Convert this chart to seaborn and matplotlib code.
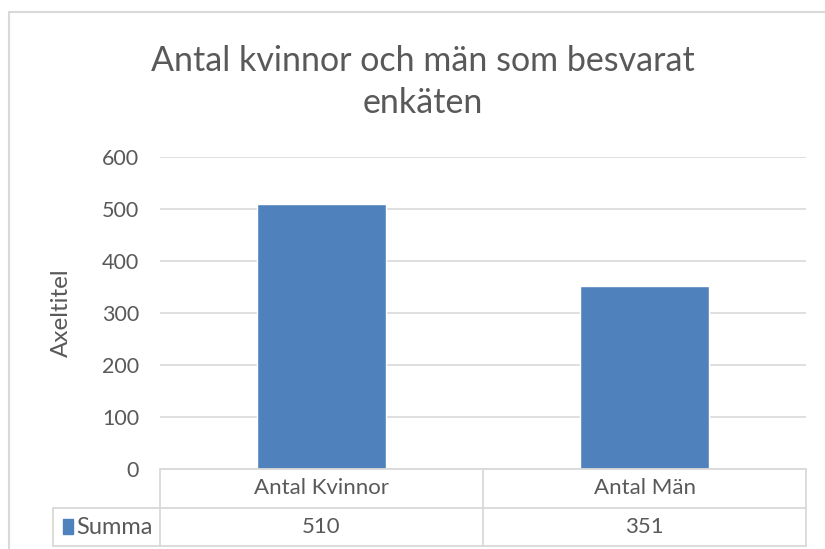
import numpy as np
import pandas as pd
import seaborn as sns
import matplotlib.pyplot as plt
from matplotlib.lines import Line2D
from matplotlib.patches import Rectangle
import matplotlib.transforms as mtransforms

categories = ["Antal Kvinnor", "Antal Män"]
values = [510, 351]
series_name = "Summa"
title = "Antal kvinnor och män som besvarat\nenkäten"
y_label = "Axeltitel"
y_ticks = [0, 100, 200, 300, 400, 500, 600]

W, H = 825, 549
bar_color = "#4F81BD"
text_color = "#595959"
line_color = "#D9D9D9"

sns.set_theme(style="white")
plt.rcParams['font.family'] = ['Lato', 'DejaVu Sans']

df = pd.DataFrame({"kategori": categories, "antal": values})

fig = plt.figure(figsize=(W / 100, H / 100), dpi=100)
fig.patch.set_facecolor("white")

def fx(x):
    return x / W

def fy(y):
    return 1 - y / H

# plot area in pixels
left, right, top, bottom = 160, 806, 157, 469
ax = fig.add_axes([fx(left), fy(bottom), fx(right) - fx(left), fy(top) - fy(bottom)])

sns.barplot(data=df, x="kategori", y="antal", color=bar_color, width=0.4,
            saturation=1, ax=ax)

ax.set_ylim(0, 600)
ax.set_yticks(y_ticks)
ax.set_xlim(-0.5, len(categories) - 0.5)
ax.yaxis.grid(True, color=line_color, linewidth=1.2)
ax.set_axisbelow(True)
for s in ax.spines.values():
    s.set_visible(False)
ax.tick_params(axis="y", length=0, pad=15, labelsize=15.5, labelcolor=text_color)
ax.set_xticks([])
ax.set_xlabel("")
ax.set_ylabel(y_label, fontsize=17.5, color=text_color)
ax.yaxis.set_label_coords((72 - left) / (right - left), 0.5)

fig.text(fx(423), fy(82), title, ha="center", va="center", fontsize=24.5,
         color=text_color, linespacing=1.38)

# outer chart frame (cropped at right/bottom)
fig.add_artist(Rectangle((fx(9), fy(H + 20)), 1.5, fy(12) - fy(H + 20),
                         transform=fig.transFigure, fill=False,
                         edgecolor=line_color, linewidth=1.5))

# data table under the plot
row1_top, row1_bot, row2_bot = 469, 508, 546
tab_left = 53
bt = mtransforms.blended_transform_factory(ax.transData, fig.transFigure)

def hline(x0, x1, y):
    fig.add_artist(Line2D([fx(x0), fx(x1)], [fy(y), fy(y)], transform=fig.transFigure,
                          color=line_color, linewidth=1.3))

def vline(x, y0, y1):
    fig.add_artist(Line2D([fx(x), fx(x)], [fy(y0), fy(y1)], transform=fig.transFigure,
                          color=line_color, linewidth=1.3))

hline(left, right, row1_top)
hline(tab_left, right, row1_bot)
hline(tab_left, right, row2_bot)
vline(left, row1_top, row2_bot)
vline(tab_left, row1_bot, row2_bot)
for i in range(len(categories)):
    xb = i + 0.5
    fig.add_artist(Line2D([xb, xb], [fy(row1_top), fy(row2_bot)], transform=bt,
                          color=line_color, linewidth=1.3))

for i, (cat, val) in enumerate(zip(categories, values)):
    ax.text(i, fy((row1_top + row1_bot) / 2), cat, transform=bt, ha="center",
            va="center", fontsize=16, color=text_color)
    ax.text(i, fy((row1_bot + row2_bot) / 2), str(val), transform=bt, ha="center",
            va="center", fontsize=16, color=text_color)

fig.add_artist(Rectangle((fx(63), fy(534)), fx(73) - fx(63), fy(519) - fy(534),
                         transform=fig.transFigure, color=bar_color))
fig.text(fx(76), fy((row1_bot + row2_bot) / 2), series_name, ha="left", va="center",
         fontsize=17, color=text_color)

fig.savefig("out.png", dpi=100)
